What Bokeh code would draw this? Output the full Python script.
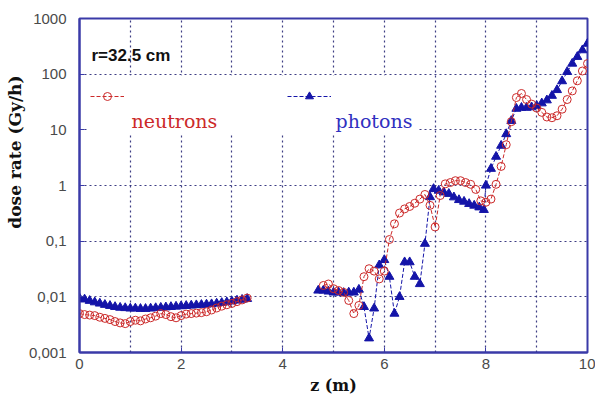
import math
from bokeh.plotting import figure
from bokeh.models import (FixedTicker, CustomJSTickFormatter, Label, BoxAnnotation,
                          Legend, LegendItem, Range1d, Title)
from bokeh.core.properties import value
from bokeh.embed import file_html
from bokeh.resources import INLINE

# ---- dose rate along z at r = 32.5 cm (Gy/h) ----
# first stretch: 0 - 3.3 m, both series sampled on the same z grid
z_near = [0.0, 0.1, 0.2, 0.3, 0.4, 0.5, 0.6, 0.7, 0.8, 0.9, 1.0, 1.1, 1.2, 1.3, 1.4, 1.5, 1.6,
          1.7, 1.8, 1.9, 2.0, 2.1, 2.2, 2.3, 2.4, 2.5, 2.6, 2.7, 2.8, 2.9, 3.0, 3.1, 3.2, 3.3]
neutrons_near = [0.0050, 0.0048, 0.0047, 0.0046, 0.0043, 0.0041, 0.0039, 0.0036, 0.0034, 0.0033,
                 0.0036, 0.0038, 0.0037, 0.0040, 0.0042, 0.0045, 0.0050, 0.0048, 0.0044, 0.0042,
                 0.0046, 0.0049, 0.0050, 0.0051, 0.0052, 0.0054, 0.0058, 0.0063, 0.0068, 0.0072,
                 0.0076, 0.0082, 0.0088, 0.0095]
photons_near = [0.0095, 0.0090, 0.0085, 0.0080, 0.0076, 0.0072, 0.0069, 0.0066, 0.0064, 0.0063,
                0.0062, 0.0062, 0.0061, 0.0061, 0.0062, 0.0063, 0.0064, 0.0065, 0.0066, 0.0067,
                0.0068, 0.0069, 0.0070, 0.0071, 0.0072, 0.0073, 0.0074, 0.0076, 0.0078, 0.0080,
                0.0083, 0.0086, 0.0089, 0.0092]

# second stretch: 4.7 - 10 m
z_far_neutrons = [4.8, 4.9, 5.0, 5.1, 5.2, 5.3, 5.4, 5.5, 5.6, 5.7, 5.8, 5.9, 6.0, 6.1, 6.2, 6.3,
                  6.4, 6.5, 6.6, 6.7, 6.8, 6.9, 7.0, 7.1, 7.2, 7.3, 7.4, 7.5, 7.6, 7.7, 7.8, 7.9,
                  8.0, 8.1, 8.2, 8.3, 8.4, 8.5, 8.6, 8.7, 8.8, 8.9, 9.0, 9.1, 9.2, 9.3, 9.4, 9.5,
                  9.6, 9.7, 9.8, 9.9, 10.0]
neutrons_far = [0.016, 0.017, 0.014, 0.013, 0.012, 0.0086, 0.005, 0.007, 0.023, 0.032, 0.029, 0.021,
                0.029, 0.107, 0.205, 0.32, 0.38, 0.42, 0.48, 0.57, 0.69, 0.44, 0.18, 0.66, 1.07,
                1.13, 1.22, 1.22, 1.13, 1.05, 0.85, 0.53, 0.50, 0.57, 1.05, 2.2, 5.4, 14.0, 38.0,
                45.0, 35.0, 29.0, 24.6, 20.6, 17.0, 16.5, 17.9, 23.5, 35.0, 50.0, 76.0, 114.0, 155.0]

z_far_photons = [4.7, 4.8, 4.9, 5.0, 5.1, 5.2, 5.3, 5.4, 5.5, 5.6, 5.7, 5.8, 5.9, 6.0, 6.1, 6.2,
                 6.3, 6.4, 6.5, 6.6, 6.7, 6.8, 6.9, 6.97, 7.07, 7.17, 7.27, 7.37, 7.47, 7.57, 7.67,
                 7.77, 7.87, 7.96, 8.0, 8.1, 8.2, 8.3, 8.4, 8.5, 8.6, 8.7, 8.8, 8.9, 9.0, 9.1, 9.2,
                 9.3, 9.4, 9.5, 9.6, 9.7, 9.8, 9.9, 10.0]
photons_far = [0.013, 0.013, 0.0125, 0.012, 0.012, 0.0118, 0.012, 0.012, 0.0135, 0.0066, 0.0018,
               0.0062, 0.037, 0.046, 0.023, 0.005, 0.010, 0.042, 0.042, 0.023, 0.017, 0.09, 0.62,
               0.87, 0.81, 0.755, 0.71, 0.615, 0.55, 0.514, 0.468, 0.436, 0.406, 0.365, 1.0, 2.0,
               3.3, 5.2, 8.4, 14.5, 24.0, 25.0, 25.0, 25.5, 27.0, 30.0, 34.0, 41.0, 52.0, 75.0,
               110.0, 155.0, 205.0, 270.0, 355.0]

y_ticks = [0.001, 0.01, 0.1, 1, 10, 100, 1000]
x_ticks = [0, 2, 4, 6, 8, 10]

RED = "#cc2a2a"
BLUE = "#1414a8"
FRAME = "#3a3aa8"
GRID = "#1c1c70"

W, H = 595, 404
LEFT, RIGHT, TOP, BOTTOM = 79, 8, 18, 52
X0, X1 = 0, 10
Y0, Y1 = 0.001, 1000

p = figure(width=W, height=H, x_range=Range1d(X0, X1), y_range=Range1d(Y0, Y1),
           y_axis_type="log", output_backend="svg", toolbar_location=None,
           min_border_left=LEFT, min_border_right=RIGHT, min_border_top=TOP,
           min_border_bottom=BOTTOM, background_fill_color="white",
           border_fill_color="white")

frame_w = W - LEFT - RIGHT
frame_h = H - TOP - BOTTOM


def to_x(px):
    """canvas pixel column -> z value"""
    return X0 + (px - LEFT) / frame_w * (X1 - X0)


def to_y(py):
    """canvas pixel row -> dose rate on the log axis"""
    decades = math.log10(Y1) - math.log10(Y0)
    return 10 ** (math.log10(Y0) + (TOP + frame_h - py) / frame_h * decades)


# photons (drawn first so the open circles stay visible on top)
ph_kw = dict(color=BLUE, line_width=1, line_dash="4 2")
tri_kw = dict(marker="triangle", size=9, fill_color=BLUE, line_color=BLUE)
ph_l1 = p.line(z_near, photons_near, **ph_kw)
ph_m1 = p.scatter(z_near, photons_near, **tri_kw)
p.line(z_far_photons, photons_far, **ph_kw)
p.scatter(z_far_photons, photons_far, **tri_kw)

# neutrons
ne_kw = dict(color=RED, line_width=1, line_dash="4 2")
circ_kw = dict(marker="circle", size=8, fill_color=None, line_color=RED, line_width=1)
ne_l1 = p.line(z_near, neutrons_near, **ne_kw)
ne_m1 = p.scatter(z_near, neutrons_near, **circ_kw)
p.line(z_far_neutrons, neutrons_far, **ne_kw)
p.scatter(z_far_neutrons, neutrons_far, **circ_kw)

# axes
p.xaxis.ticker = FixedTicker(ticks=x_ticks)
p.yaxis.ticker = FixedTicker(ticks=y_ticks)
p.yaxis.formatter = CustomJSTickFormatter(code="""
    const e = Math.round(Math.log10(tick));
    if (e < 0) { return '0,' + '0'.repeat(-e - 1) + '1'; }
    return String(Math.round(Math.pow(10, e)));
""")
for ax in (p.xaxis[0], p.yaxis[0]):
    ax.major_label_text_font = "Liberation Sans"
    ax.major_label_text_font_size = "15px"
    ax.major_label_text_color = "#4a4a4a"
    ax.major_tick_in = 5
    ax.major_tick_out = 0
    ax.minor_tick_in = 0
    ax.minor_tick_out = 0
    ax.major_tick_line_color = FRAME
    ax.axis_line_color = FRAME
    ax.axis_line_width = 2
p.yaxis.major_label_standoff = 13
p.xaxis.major_label_standoff = 6

p.xaxis.axis_label = "z (m)"
p.xaxis.axis_label_text_font = "DejaVu Serif"
p.xaxis.axis_label_text_font_style = "bold"
p.xaxis.axis_label_text_font_size = "16px"
p.xaxis.axis_label_text_color = "#111111"
p.xaxis.axis_label_standoff = 4

# vertical axis title, placed toward the top of the left margin
p.add_layout(Title(text="dose rate (Gy/h)", align="right", offset=57,
                   text_font="DejaVu Serif", text_font_style="bold", text_font_size="17px",
                   text_color="#111111", standoff=2), "left")

# grid
p.xgrid.ticker = FixedTicker(ticks=[1, 2, 3, 4, 5, 6, 7, 8, 9])
p.ygrid.ticker = FixedTicker(ticks=[0.01, 0.1, 1, 10, 100])
for g in (p.xgrid[0], p.ygrid[0]):
    g.grid_line_color = GRID
    g.grid_line_dash = "2 3"
    g.grid_line_width = 1.2
    g.grid_line_alpha = 0.85

p.outline_line_color = FRAME
p.outline_line_width = 2
p.outline_line_alpha = 1

# white panel behind the legend
p.add_layout(BoxAnnotation(left=to_x(87), right=to_x(418), top=to_y(75), bottom=to_y(134),
                           fill_color="white", fill_alpha=1, line_color=None))

# legend keys
KEY_H = 20
key_bottom = frame_h + TOP - (96 + KEY_H / 2)
leg_common = dict(border_line_color=None, background_fill_alpha=0, padding=0, margin=0,
                  glyph_height=KEY_H, label_standoff=0, label_text_font_size="1px",
                  label_width=0, label_height=0)
leg_n = Legend(items=[LegendItem(label=value(" "), renderers=[ne_l1, ne_m1])],
               location=(11, key_bottom), glyph_width=34, **leg_common)
leg_p = Legend(items=[LegendItem(label=value(" "), renderers=[ph_l1, ph_m1])],
               location=(208, key_bottom), glyph_width=44, **leg_common)
p.add_layout(leg_n)
p.add_layout(leg_p)

# texts
p.add_layout(Label(x=to_x(91), y=to_y(64), text="r=32.5 cm", text_font="Liberation Sans",
                   text_font_style="bold", text_font_size="17px", text_color="#111111"))
p.add_layout(Label(x=to_x(131), y=to_y(131), text="neutrons", text_font="DejaVu Serif",
                   text_font_size="19px", text_color=RED))
p.add_layout(Label(x=to_x(335), y=to_y(131), text="photons", text_font="DejaVu Serif",
                   text_font_size="19px", text_color="#3030c0"))

open("out.html", "w").write(file_html(p, INLINE))
